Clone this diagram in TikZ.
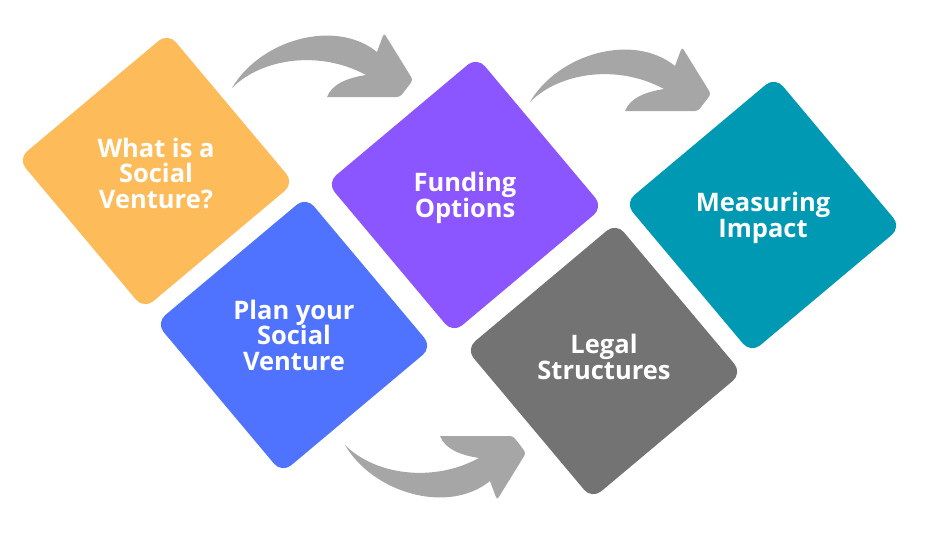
\documentclass[tikz,border=0pt]{standalone}
\usepackage{fontspec}
\setmainfont{Open Sans}
\usetikzlibrary{positioning}
\definecolor{ventcolor}{RGB}{253,187,90}
\definecolor{plancolor}{RGB}{80,115,255}
\definecolor{fundcolor}{RGB}{139,85,255}
\definecolor{legalcolor}{RGB}{115,115,115}
\definecolor{impactcolor}{RGB}{0,153,180}
\definecolor{swooshcolor}{RGB}{166,166,166}

\begin{document}
\begin{tikzpicture}[x=1pt,y=-1pt,
  tile/.style={rectangle,rounded corners=12pt,minimum size=196pt,inner sep=0pt,rotate=40},
  txt/.style={text=white,align=center,font=\bfseries\fontsize{25.5}{25.5}\selectfont},
  swoosh/.pic={\fill[swooshcolor] (0,0) .. controls (28,-48) and (103,-70) .. (145,-36)
    [rounded corners=3pt] -- (152,-55) -- (181,-8) -- (168,9) [sharp corners] -- (95,9)
    .. controls (100,-4) and (115,-10) .. (134,-13) .. controls (88,-38) and (30,-30) .. (0,0) -- cycle;}]
\useasboundingbox (0,0) rectangle (932,535);
% tiles
\node[tile,fill=ventcolor] (wisv) at (156,171) {};
\node[tile,fill=plancolor] (plan) at (294,335) {};
\node[tile,fill=fundcolor] (fund) at (465,195) {};
\node[tile,fill=legalcolor] (legal) at (604,361) {};
\node[tile,fill=impactcolor] (impact) at (763,215) {};
% labels
\node[txt] (wisv-t) at ([yshift=-2pt]wisv.center) {What is a\\Social\\Venture?};
\node[txt] (plan-t) at (plan) {Plan your\\Social\\Venture};
\node[txt] (fund-t) at ([yshift=-3pt]fund.center) {Funding\\Options};
\node[txt] (legal-t) at ([yshift=4pt]legal.center) {Legal\\Structures};
\node[txt] (impact-t) at ([yshift=-3pt]impact.center) {Measuring\\Impact};
% swooshes
\pic at (232,88) {swoosh};
\pic at (530,102) {swoosh};
\pic[yscale=-1] at (345,445) {swoosh};
\end{tikzpicture}
\end{document}
